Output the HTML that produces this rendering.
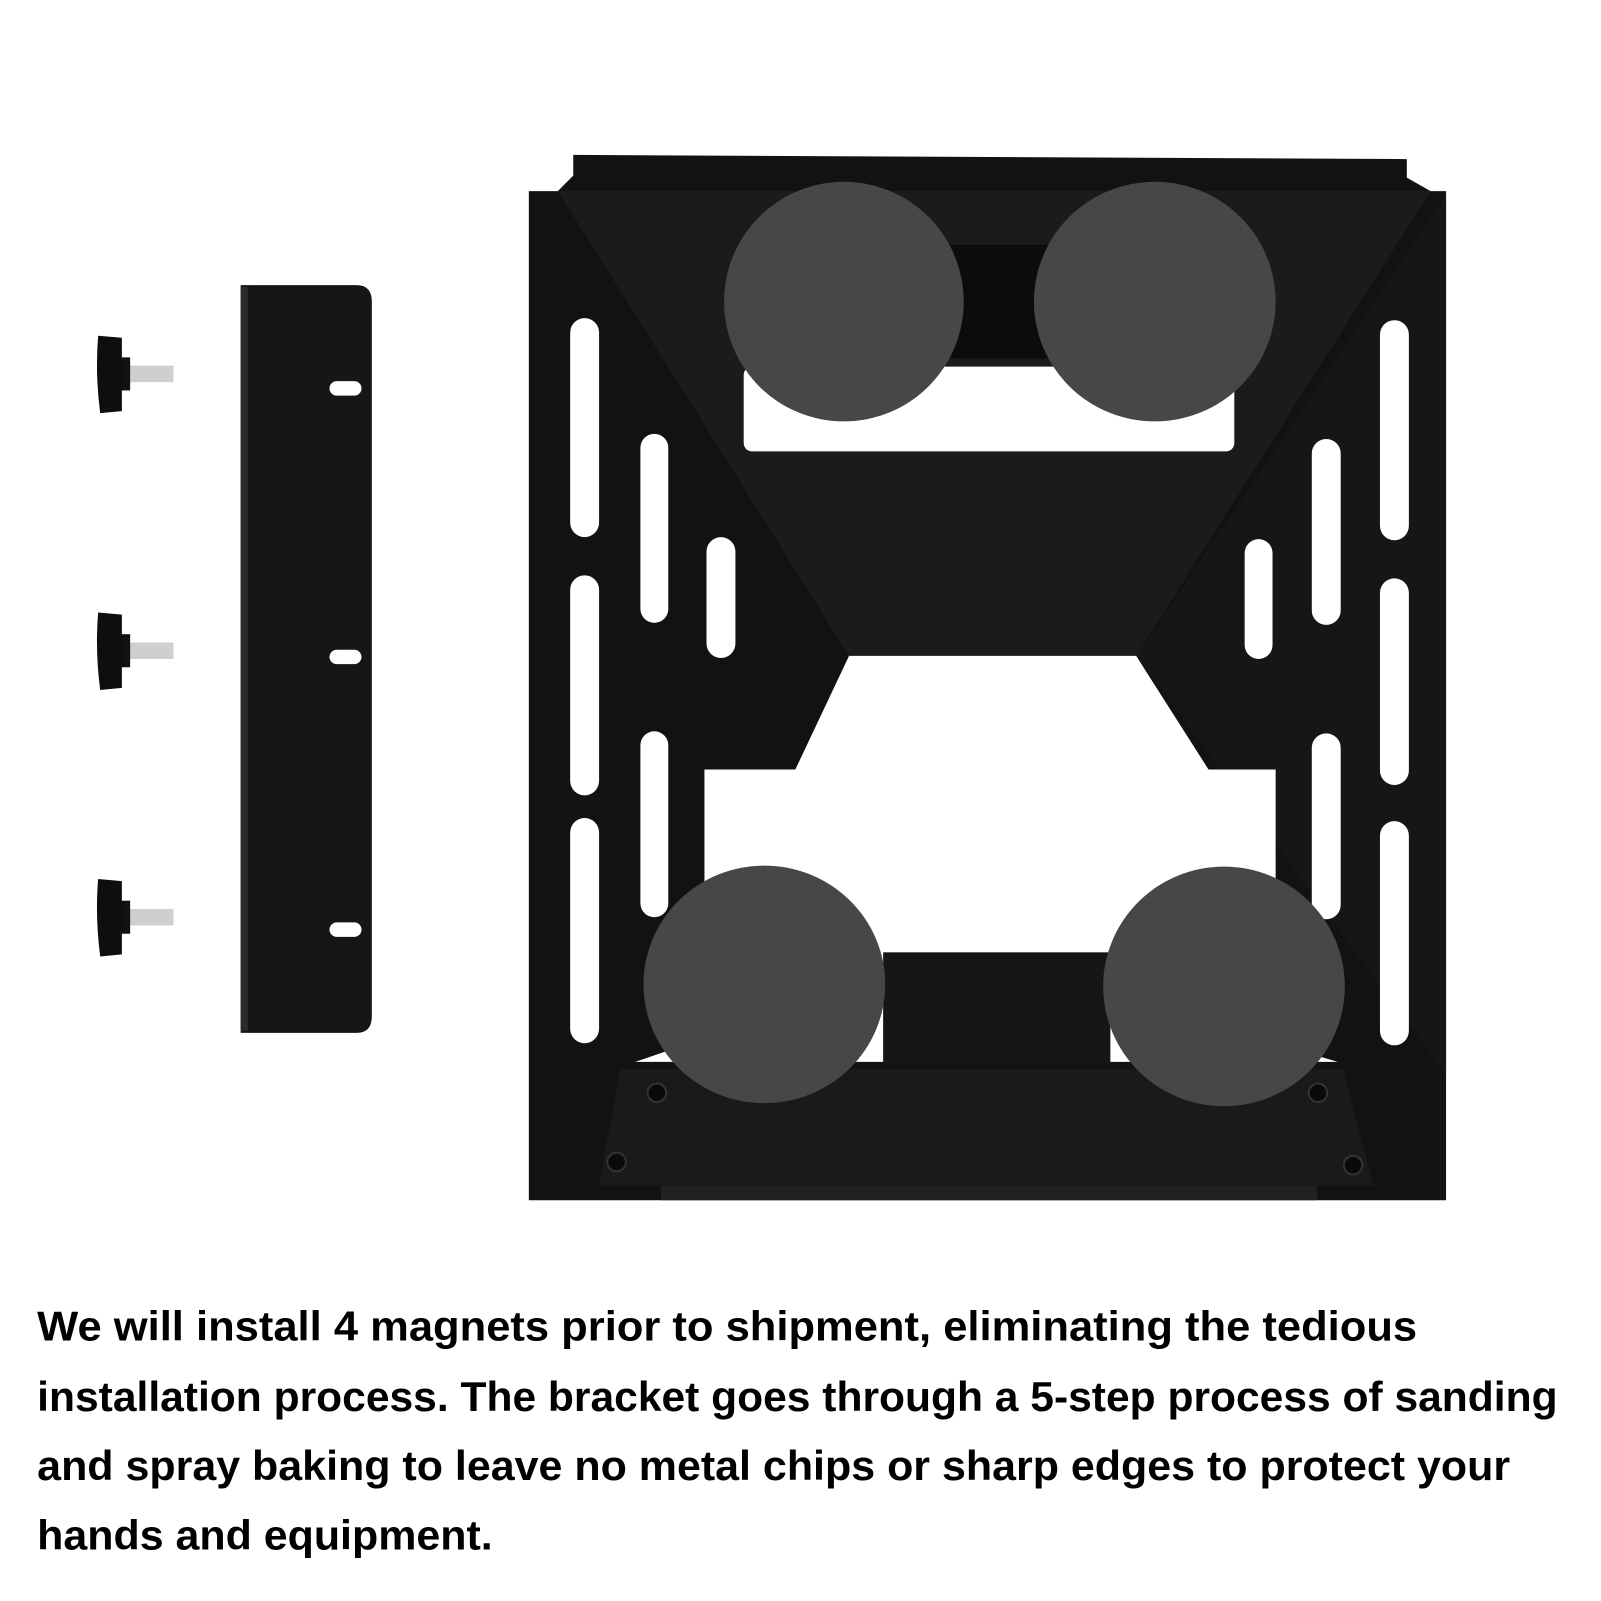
<!DOCTYPE html>
<html><head><style>html,body{margin:0;padding:0;background:#fff}svg{display:block}</style></head>
<body>
<svg width="1601" height="1601" viewBox="0 0 1550 1550" xmlns="http://www.w3.org/2000/svg">
<rect width="1550" height="1550" fill="#fff"/>
<!-- knobs -->
<g>
 <g transform="translate(0,0)">
  <rect x="122" y="354" width="46" height="16" fill="#cfcfcf"/>
  <rect x="112" y="346" width="14" height="32" fill="#111"/>
  <path d="M95 325 L118 327 L118 398 L97 400 Q92 362 95 325Z" fill="#0e0e0e"/>
 </g>
 <g transform="translate(0,268)">
  <rect x="122" y="354" width="46" height="16" fill="#cfcfcf"/>
  <rect x="112" y="346" width="14" height="32" fill="#111"/>
  <path d="M95 325 L118 327 L118 398 L97 400 Q92 362 95 325Z" fill="#0e0e0e"/>
 </g>
 <g transform="translate(0,526)">
  <rect x="122" y="354" width="46" height="16" fill="#cfcfcf"/>
  <rect x="112" y="346" width="14" height="32" fill="#111"/>
  <path d="M95 325 L118 327 L118 398 L97 400 Q92 362 95 325Z" fill="#0e0e0e"/>
 </g>
</g>
<!-- side bar -->
<path d="M233 276 L345 276 Q360 276 360 292 L360 984 Q360 1000 345 1000 L233 1000Z" fill="#161616"/>
<rect x="233" y="278" width="7" height="720" fill="#2a2a2a"/>
<rect x="319" y="369" width="31" height="14" rx="7" fill="#fff"/>
<rect x="319" y="629" width="31" height="14" rx="7" fill="#fff"/>
<rect x="319" y="893" width="31" height="14" rx="7" fill="#fff"/>
<!-- main plate -->
<path d="M555 150 L1362 154 L1362 172 L1385 185 L1400 185 L1400 1162 L512 1162 L512 185 L540 185 L555 170Z" fill="#121212"/>
<!-- faces -->
<path d="M540 185 L1385 185 L1100 635 L822 635Z" fill="#1b1b1b"/>
<path d="M1400 190 L1400 1040 L1100 635Z" fill="#161616"/>
<path d="M600 1035 L1300 1035 L1330 1148 L580 1148Z" fill="#1a1a1a"/>
<rect x="640" y="1148" width="635" height="14" fill="#222"/>
<!-- cutouts -->
<rect x="720" y="355" width="475" height="82" rx="8" fill="#fff"/>
<path d="M822 635 L1100 635 L1170 745 L1235 745 L1235 880 L1235 1010 L1295 1028 L615 1028 L682 1005 L682 745 L770 745Z" fill="#fff"/>
<rect x="855" y="922" width="220" height="108" fill="#161616"/>
<rect x="920" y="237" width="95" height="110" fill="#0c0c0c"/>
<!-- slots -->
<g fill="#fff">
 <rect x="552" y="308" width="28" height="212" rx="14"/>
 <rect x="552" y="557" width="28" height="213" rx="14"/>
 <rect x="552" y="792" width="28" height="218" rx="14"/>
 <rect x="620" y="420" width="27" height="183" rx="13.5"/>
 <rect x="620" y="708" width="27" height="180" rx="13.5"/>
 <rect x="684" y="520" width="28" height="117" rx="14"/>
 <rect x="1336" y="310" width="28" height="213" rx="14"/>
 <rect x="1336" y="560" width="28" height="200" rx="14"/>
 <rect x="1336" y="795" width="28" height="217" rx="14"/>
 <rect x="1270" y="425" width="28" height="180" rx="14"/>
 <rect x="1270" y="710" width="28" height="180" rx="14"/>
 <rect x="1205" y="522" width="27" height="116" rx="13.5"/>
</g>
<!-- magnets -->
<g fill="#474747">
 <ellipse cx="817" cy="292" rx="116" ry="116"/>
 <ellipse cx="1118" cy="292" rx="117" ry="116"/>
 <ellipse cx="740" cy="953" rx="117" ry="115"/>
 <ellipse cx="1185" cy="955" rx="117" ry="116"/>
</g>
<!-- screws -->
<g fill="#0a0a0a" stroke="#333" stroke-width="2">
 <circle cx="636" cy="1058" r="9"/><circle cx="1276" cy="1058" r="9"/>
 <circle cx="597" cy="1125" r="9"/><circle cx="1310" cy="1128" r="9"/>
</g>
<!-- text -->
<g font-family="'Liberation Sans', sans-serif" font-weight="bold" font-size="40" fill="#000">
 <text x="36" y="1298" textLength="1336" lengthAdjust="spacingAndGlyphs">We will install 4 magnets prior to shipment, eliminating the tedious</text>
 <text x="36" y="1366" textLength="1472" lengthAdjust="spacingAndGlyphs">installation process. The bracket goes through a 5-step process of sanding</text>
 <text x="36" y="1433" textLength="1426" lengthAdjust="spacingAndGlyphs">and spray baking to leave no metal chips or sharp edges to protect your</text>
 <text x="36" y="1500" textLength="441" lengthAdjust="spacingAndGlyphs">hands and equipment.</text>
</g>
</svg>
</body></html>
